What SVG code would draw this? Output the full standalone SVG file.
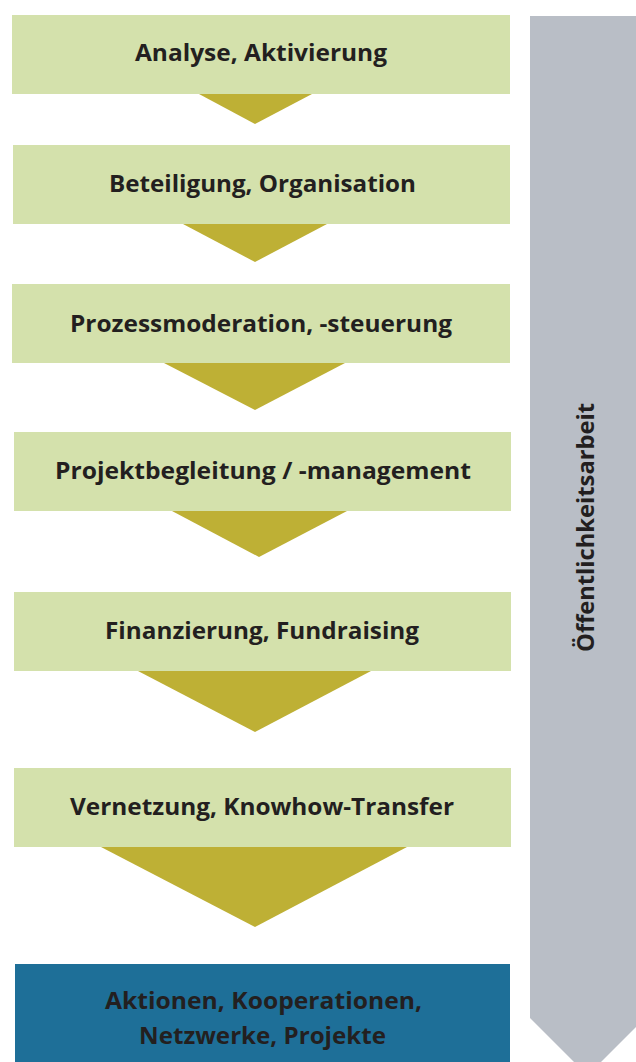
<svg xmlns="http://www.w3.org/2000/svg" width="636" height="1062" viewBox="0 0 636 1062">
<style>
.box{fill:#d4e1ac}
.final{fill:#1e6f98}
.tri{fill:#beb035}
.side{fill:#b9bec6}
.lbl{font-family:"Open Sans","Liberation Sans",sans-serif;font-weight:bold;font-size:23px;fill:#231f20;text-anchor:middle}
</style>
<rect width="636" height="1062" fill="#ffffff"/>
<g id="side-bar">
<polygon class="side" points="530,16 645,16 645,1018 587.5,1075.5 530,1018"/>
<text class="lbl" transform="translate(594,527.5) rotate(-90)" x="0" y="0" textLength="249" lengthAdjust="spacingAndGlyphs">Öffentlichkeitsarbeit</text>
</g>
<g id="connectors">
<polygon class="tri" points="199,94 312,94 255,124"/>
<polygon class="tri" points="183,224 327,224 255,262"/>
<polygon class="tri" points="164,363 345,363 255,410"/>
<polygon class="tri" points="172,511 347,511 259,557"/>
<polygon class="tri" points="138,671 371,671 255,732"/>
<polygon class="tri" points="101,847 407,847 255,927"/>
</g>
<g id="node1">
<rect class="box" x="12" y="15" width="498" height="79"/>
<text class="lbl" x="261" y="61" textLength="252" lengthAdjust="spacingAndGlyphs">Analyse, Aktivierung</text>
</g>
<g id="node2">
<rect class="box" x="13" y="145" width="497" height="79"/>
<text class="lbl" x="262.5" y="191.5" textLength="307" lengthAdjust="spacingAndGlyphs">Beteiligung, Organisation</text>
</g>
<g id="node3">
<rect class="box" x="12" y="284" width="498" height="79"/>
<text class="lbl" x="261" y="331.5" textLength="382" lengthAdjust="spacingAndGlyphs">Prozessmoderation, -steuerung</text>
</g>
<g id="node4">
<rect class="box" x="14" y="432" width="497" height="79"/>
<text class="lbl" x="263" y="479" textLength="416" lengthAdjust="spacingAndGlyphs">Projektbegleitung / -management</text>
</g>
<g id="node5">
<rect class="box" x="14" y="592" width="497" height="79"/>
<text class="lbl" x="262" y="639" textLength="314" lengthAdjust="spacingAndGlyphs">Finanzierung, Fundraising</text>
</g>
<g id="node6">
<rect class="box" x="14" y="768" width="497" height="79"/>
<text class="lbl" x="262" y="815" textLength="384" lengthAdjust="spacingAndGlyphs">Vernetzung, Knowhow-Transfer</text>
</g>
<g id="node7">
<rect class="final" x="15" y="964" width="495" height="100"/>
<text class="lbl" x="263.5" y="1008.5" textLength="317" lengthAdjust="spacingAndGlyphs">Aktionen, Kooperationen,</text>
<text class="lbl" x="262.5" y="1043.5" textLength="247" lengthAdjust="spacingAndGlyphs">Netzwerke, Projekte</text>
</g>
</svg>
